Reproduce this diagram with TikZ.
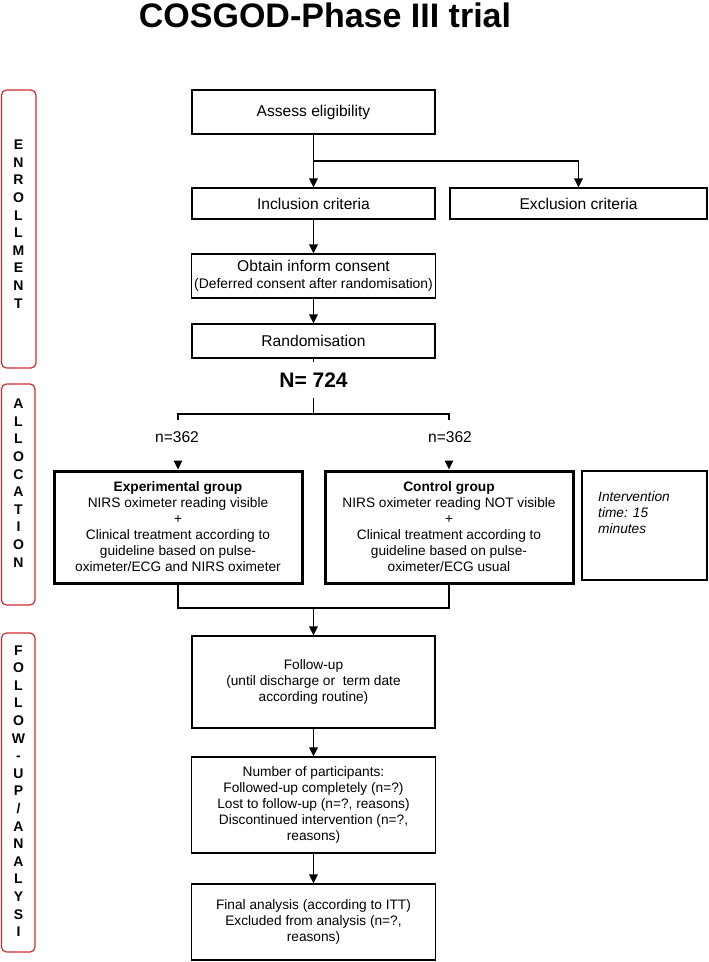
\documentclass[tikz,border=0pt]{standalone}
\usepackage{fontspec}
\setmainfont{Liberation Sans}
\usetikzlibrary{arrows.meta}
\definecolor{redline}{RGB}{205,45,50}
\tikzset{
  base/.style={font=\fontsize{13.7}{16}\selectfont, align=center, inner sep=0pt},
  box/.style={base, draw, line width=1.1pt, rectangle},
  bigbox/.style={box, font=\fontsize{15.6}{17}\selectfont},
  thickbox/.style={base, draw, line width=3pt, rectangle},
  phase/.style={draw=redline, line width=1.2pt, rounded corners=5pt},
  phasetxt/.style={font=\fontsize{14}{17.6}\selectfont\bfseries, align=center, inner sep=0pt},
  conn/.style={line width=1.3pt},
  arr/.style={line width=1.3pt, -{Triangle[width=8.5pt,length=9pt]}},
}
\begin{document}
\begin{tikzpicture}[x=1pt,y=-1pt]
\useasboundingbox (0,0) rectangle (709,962);
% title
\node[font=\fontsize{34}{38}\selectfont\bfseries, inner sep=0pt] (title) at (325,15) {COSGOD-Phase III trial};
% phase bars
\draw[phase] (1.5,90) rectangle (36,368);
\draw[phase] (1.5,384) rectangle (35,605);
\draw[phase] (1.5,633) rectangle (35,952);
\node[phasetxt] (penr) at (18.5,224) {E\\N\\R\\O\\L\\L\\M\\E\\N\\T};
\node[phasetxt] (palloc) at (18.5,483) {A\\L\\L\\O\\C\\A\\T\\I\\O\\N};
\node[phasetxt] (pfollow) at (18.5,791) {F\\O\\L\\L\\O\\W\\-\\U\\P\\/\\A\\N\\A\\L\\Y\\S\\I};
% boxes
\node[bigbox, minimum width=243pt, minimum height=44pt] (assess) at (313.5,112) {Assess eligibility};
\node[bigbox, minimum width=243pt, minimum height=31pt] (incl) at (313.5,203.5) {Inclusion criteria};
\node[bigbox, minimum width=257pt, minimum height=31pt] (excl) at (578.5,203.5) {Exclusion criteria};
\node[bigbox, minimum width=244pt, minimum height=44pt] (consent) at (313.5,276) {Obtain inform consent\\{\fontsize{13.9}{16}\selectfont(Deferred consent after randomisation)}};
\node[bigbox, minimum width=243pt, minimum height=34pt] (rand) at (313.5,341) {Randomisation};
\node[font=\fontsize{21}{22}\selectfont\bfseries, inner sep=0pt] (N) at (313.5,380) {N= 724};
\node[thickbox, minimum width=248pt, minimum height=112pt] (exp) at (178,527) {\textbf{Experimental group}\\NIRS oximeter reading visible\\+\\Clinical treatment according to\\guideline based on pulse-\\oximeter/ECG and NIRS oximeter};
\node[thickbox, minimum width=248pt, minimum height=112pt] (ctrl) at (449,527) {\textbf{Control group}\\NIRS oximeter reading NOT visible\\+\\Clinical treatment according to\\guideline based on pulse-\\oximeter/ECG usual};
\node[box, minimum width=125pt, minimum height=109pt] (interv) at (644.5,525.5) {};
\node[base, align=left, anchor=north west, font=\fontsize{13.7}{16}\selectfont\itshape] (intervtxt) at (598,491) {Intervention\\time: 15\\minutes};
\node[box, minimum width=243pt, minimum height=92pt] (follow) at (313.5,682) {Follow-up\\(until discharge or\ \ term date\\according routine)};
\node[box, minimum width=244pt, minimum height=96pt] (number) at (313.5,805) {Number of participants:\\Followed-up completely (n=?)\\Lost to follow-up (n=?, reasons)\\Discontinued intervention (n=?,\\reasons)};
\node[box, minimum width=244pt, minimum height=76pt] (final) at (313.5,922) {Final analysis (according to ITT)\\Excluded from analysis (n=?,\\reasons)};
\node[base, font=\fontsize{15.6}{17}\selectfont] (nl) at (177,437) {n=362};
\node[base, font=\fontsize{15.6}{17}\selectfont] (nr) at (450,437) {n=362};
% coordinates
\coordinate (j1) at (313.5,161);
\coordinate (rtick) at (313.5,362);
\coordinate (ntop) at (313.5,398);
\coordinate (nsplit) at (313.5,414);
\coordinate (hl) at (178,414);
\coordinate (hr) at (449,414);
\coordinate (dl) at (178,420);
\coordinate (dr) at (449,420);
\coordinate (al) at (178,461);
\coordinate (ar) at (449,461);
\coordinate (bl) at (178,608);
\coordinate (br) at (449,608);
\coordinate (bm) at (313.5,608);
% connectors
\draw[arr] (assess.south) -- (incl.north);
\draw[arr] (j1) -| (excl.north);
\draw[arr] (incl.south) -- (consent.north);
\draw[arr] (consent.south) -- (rand.north);
\draw[conn] (rand.south) -- (rtick);
\draw[conn] (ntop) -- (nsplit);
\draw[conn] (dl) -- (hl) -- (hr) -- (dr);
\draw[arr] (al) -- (exp.north);
\draw[arr] (ar) -- (ctrl.north);
\draw[conn] (exp.south) -- (bl) -- (br) -- (ctrl.south);
\draw[arr] (bm) -- (follow.north);
\draw[arr] (follow.south) -- (number.north);
\draw[arr] (number.south) -- (final.north);
\end{tikzpicture}
\end{document}
